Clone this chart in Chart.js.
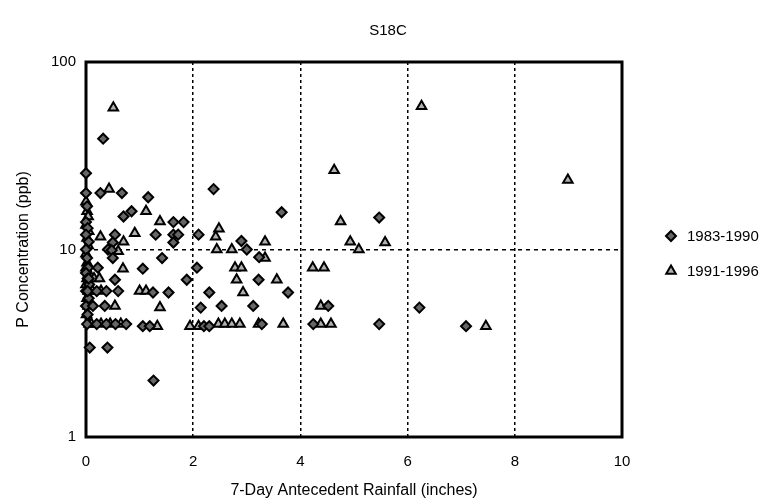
<!DOCTYPE html>
<html><head><meta charset="utf-8">
<script src="https://cdn.jsdelivr.net/npm/chart.js@4/dist/chart.umd.min.js"></script>
<style>html,body{margin:0;padding:0;background:#fff}#wrap{width:777px;height:502px}</style>
</head><body><div id="wrap"><canvas id="c" width="777" height="502"></canvas></div>
<script>
const chartTitle = "S18C";
const seriesNames = ["1983-1990", "1991-1996"];
const xTicks = [0, 2, 4, 6, 8, 10];
const yTicks = [1, 10, 100];
// [rainfall (in), P concentration (ppb)]
const data1983 = [
  [0,25.5],[0,20],[0.02,17],[0,14],[0.03,13],[0,12],[0.05,11],[0,10],[0.02,9],[0.04,8],[0,7.5],[0.03,7],[0.06,6.5],[0,6],[0.05,5.5],[0,5],[0.03,4.5],[0.02,4],
  [0.32,39],[0.27,20],[0.67,20],[1.16,19],[0.7,15],[0.85,16],[1.63,14],[1.82,14],[0.54,12],[1.3,12],[1.63,12],[1.72,12],[1.63,10.9],[2.1,12],
  [0.5,10.9],[0.41,10],[0.48,9.9],[0.5,9],[1.42,9],[0.22,8],[1.06,7.9],[2.07,8],[0.05,7],[0.54,6.9],[1.88,6.9],[0.03,6],[0.2,6],[0.38,6],[0.6,6],
  [1.25,5.9],[1.54,5.9],[2.3,5.9],[0.13,5],[0.35,5],[2.14,4.9],[0.2,4],[0.38,4],[0.55,4],[0.75,4],[1.06,3.9],[1.19,3.9],[2.2,3.9],[2.3,3.9],
  [0.07,3],[0.4,3],[1.26,2],
  [2.38,21],[3.65,15.8],[5.47,14.8],[2.9,11.1],[3.0,10],[3.23,9.1],[3.22,6.9],[3.77,5.9],[2.53,5],[3.12,5],[4.52,5],
  [3.28,4],[4.24,4],[5.47,4],[6.22,4.9],[7.09,3.9]
];
const data1991 = [
  [0,18],[0.02,16],[0.04,15],[0,13.5],[0.05,12.5],[0.02,11.5],[0.04,10.5],[0,9.5],[0.02,8.5],[0,8],[0.05,7.5],[0.02,7],[0,6.5],[0.04,6],[0.02,5.5],[0.04,5],[0.01,4.5],[0.06,4],
  [0.51,57],[0.43,21],[1.12,16],[1.38,14.1],[0.27,11.7],[0.7,11],[0.91,12.2],[0.6,9.8],[0.69,7.9],[0.15,7],[0.25,7],[0.12,6],[0.28,6],[1.0,6],[1.12,6],
  [0.54,5],[1.38,4.9],[0.1,4],[0.28,4],[0.45,4],[0.65,4],[1.33,3.9],[1.94,3.9],[2.1,3.9],[2.47,4],[2.59,4],[2.72,4],[2.87,4],
  [4.63,26.5],[4.75,14.1],[2.48,12.9],[2.42,11.7],[3.34,11],[2.44,10],[2.72,10],[4.93,11],[5.09,10],[5.58,10.9],[3.34,9],[2.78,8],[2.9,8],[4.23,8],[4.44,8],
  [2.81,6.9],[3.56,6.9],[2.93,5.9],[4.38,5],[3.22,4],[3.68,4],[4.38,4],[4.57,4],[6.26,58],[8.99,23.5],[7.46,3.9]
];
const toPts = a => a.map(p => ({x: p[0], y: p[1]}));
const FONT = "'Liberation Sans', Arial, sans-serif";

const frame = {
  id: 'frame',
  beforeDatasetsDraw(chart) {
    const ctx = chart.ctx, a = chart.chartArea;
    ctx.save();
    ctx.strokeStyle = '#000';
    ctx.lineWidth = 3;
    ctx.strokeRect(a.left, a.top, a.right - a.left, a.bottom - a.top);
    ctx.restore();
  },
  afterDraw(chart) {
    const ctx = chart.ctx;
    ctx.save();
    ctx.fillStyle = '#000';
    ctx.font = '15px ' + FONT;
    ctx.textAlign = 'center';
    ctx.textBaseline = 'middle';
    ctx.fillText(chartTitle, 388, 31);
    const ds = chart.data.datasets;
    const rows = [236, 271];
    ds.forEach((d, i) => {
      const ps = {pointStyle: d.pointStyle, radius: d.pointRadius, rotation: 0, borderWidth: d.borderWidth};
      ctx.fillStyle = d.backgroundColor;
      ctx.strokeStyle = d.borderColor;
      ctx.lineWidth = d.borderWidth;
      Chart.helpers.drawPoint(ctx, ps, 671, rows[i]);
      ctx.fillStyle = '#000';
      ctx.textAlign = 'left';
      ctx.fillText(d.label, 687, rows[i] + 1);
    });
    ctx.restore();
  }
};

new Chart(document.getElementById('c'), {
  type: 'scatter',
  data: {
    datasets: [
      {label: seriesNames[0], data: toPts(data1983), pointStyle: 'rectRot', pointRadius: 5, borderWidth: 2,
       backgroundColor: '#666', borderColor: '#000', pointHoverRadius: 5, clip: false},
      {label: seriesNames[1], data: toPts(data1991), pointStyle: 'triangle', pointRadius: 5.5, borderWidth: 2,
       backgroundColor: '#b0b0b0', borderColor: '#000', pointHoverRadius: 5.5, clip: false}
    ]
  },
  options: {
    responsive: false,
    animation: false,
    events: [],
    layout: {padding: {left: 0, top: 62, right: 155, bottom: 0}},
    plugins: {legend: {display: false}, title: {display: false}, tooltip: {enabled: false}},
    scales: {
      x: {
        type: 'linear', min: 0, max: 10,
        afterBuildTicks: s => { s.ticks = xTicks.map(v => ({value: v})); },
        afterFit: s => { s.height = 65; },
        ticks: {color: '#000', font: {family: FONT, size: 15}, padding: 16, maxRotation: 0},
        grid: {drawTicks: false, lineWidth: 1.5,
               color: c => (c.tick && (c.tick.value === 0 || c.tick.value === 10)) ? 'rgba(0,0,0,0)' : '#000'},
        border: {display: false, dash: [3, 3]},
        title: {display: true, text: '7-Day Antecedent Rainfall (inches)', color: '#000',
                font: {family: FONT, size: 16}, padding: {top: 2, bottom: 2}}
      },
      y: {
        type: 'logarithmic', min: 1, max: 100,
        afterBuildTicks: s => { s.ticks = yTicks.map(v => ({value: v})); },
        afterFit: s => { s.width = 86; },
        ticks: {color: '#000', font: {family: FONT, size: 15}, padding: 10, callback: v => String(v)},
        grid: {drawTicks: false, lineWidth: 1.5,
               color: c => (c.tick && c.tick.value === 10) ? '#000' : 'rgba(0,0,0,0)'},
        border: {display: false, dash: [4, 4]},
        title: {display: true, text: 'P Concentration (ppb)', color: '#000',
                font: {family: FONT, size: 16}, padding: {top: 14, bottom: 4}}
      }
    }
  },
  plugins: [frame]
});
</script>
</body></html>
